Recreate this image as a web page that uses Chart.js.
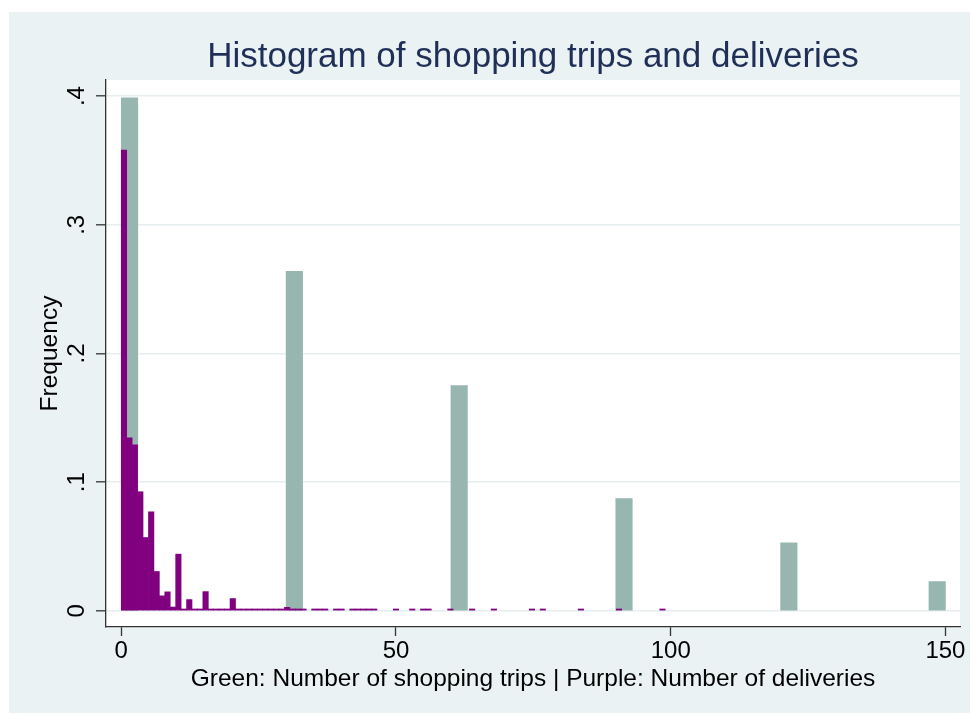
<!DOCTYPE html>
<html>
<head>
<meta charset="utf-8">
<title>Histogram of shopping trips and deliveries</title>
<style>
  html, body { margin: 0; padding: 0; background: #ffffff; }
  #wrap { width: 972px; height: 715px; }
</style>
<script src="https://cdn.jsdelivr.net/npm/chart.js@4.4.1/dist/chart.umd.min.js"></script>
</head>
<body>
<div id="wrap"><canvas id="hist" width="972" height="715"></canvas></div>
<script>
// Shopping trips: 50 bins of width 3 spanning 0-150; only these bins hold observations
const tripBinWidth = 3;
const tripBinCount = 50;
const tripBinStarts = [0, 30, 60, 90, 120, 147];
const tripFreq = [0.3987, 0.2638, 0.175, 0.0872, 0.0529, 0.0228];

// Deliveries: 100 bins of width 0.99 spanning 0-99 (bin n starts at n * 0.99)
const deliveryBinWidth = 0.99;
const deliveryFreq = [
  0.358, 0.1344, 0.129, 0.0926, 0.057, 0.077, 0.0306, 0.0117, 0.0148, 0.003,   // 0-9
  0.0441, 0.0015, 0.0088, 0.0015, 0.0015, 0.015, 0.0015, 0.0015, 0.0015, 0.0015, // 10-19
  0.0096, 0.0015, 0.0015, 0.0015, 0.0015, 0.0015, 0.0015, 0.0015, 0.0015, 0.0015, // 20-29
  0.0028, 0.0015, 0.0015, 0.0015, 0, 0.0015, 0.0015, 0.0015, 0, 0.0015,         // 30-39
  0.0015, 0, 0.0015, 0.0015, 0.0015, 0.0015, 0.0015, 0, 0, 0,                    // 40-49
  0.0015, 0, 0, 0.0015, 0, 0.0015, 0.0015, 0, 0, 0,                              // 50-59
  0.0015, 0, 0, 0, 0.0015, 0, 0, 0, 0.0015, 0,                                   // 60-69
  0, 0, 0, 0, 0, 0.0015, 0, 0.0015, 0, 0,                                        // 70-79
  0, 0, 0, 0, 0.0015, 0, 0, 0, 0, 0,                                             // 80-89
  0, 0.0015, 0, 0, 0, 0, 0, 0, 0, 0.0015                                         // 90-99
];

// Axis ticks
const xTickValues = [0, 50, 100, 150];
const xTickLabels = ['0', '50', '100', '150'];
const yTickValues = [0, 0.1, 0.2, 0.3, 0.4];
const yTickLabels = ['0', '.1', '.2', '.3', '.4'];

const titleText = 'Histogram of shopping trips and deliveries';
const xTitleText = 'Green: Number of shopping trips | Purple: Number of deliveries';
const yTitleText = 'Frequency';

// Axis ranges include a small margin around the data, as the plot region does
const X_MIN = -2.78, X_MAX = 152.65;
const Y_MIN = -0.0125, Y_MAX = 0.4125;

const FONT = "'Liberation Sans', Arial, Helvetica, sans-serif";
const REGION = '#eaf2f3';
const GRID = '#e6eef0';
const AXIS = '#333333';
const GREEN = '#97b6b0';
const PURPLE = '#800080';
const TITLE = '#1f2f57';

// Full bin tables for the bar controller (empty bins left as null)
const tripPoints = [];
for (let k = 0; k < tripBinCount; k++) {
  const idx = tripBinStarts.indexOf(k * tripBinWidth);
  tripPoints.push({ x: (k + 0.5) * tripBinWidth, y: idx >= 0 ? tripFreq[idx] : null });
}
const deliveryPoints = deliveryFreq.map((f, n) => ({
  x: (n + 0.5) * deliveryBinWidth,
  y: f > 0 ? f : null
}));

// Graph region (light bluish grey) and white plot region behind everything
const backdrop = {
  id: 'backdrop',
  beforeDraw(chart) {
    const { ctx, chartArea: a } = chart;
    ctx.save();
    ctx.fillStyle = '#ffffff';
    ctx.fillRect(0, 0, chart.width, chart.height);
    ctx.fillStyle = REGION;
    ctx.fillRect(9, 12, 961, 701);
    ctx.fillStyle = '#ffffff';
    ctx.fillRect(a.left, a.top, a.right - a.left, a.bottom - a.top);
    ctx.restore();
  }
};

const barCommon = {
  barPercentage: 1,
  categoryPercentage: 1,
  borderWidth: 0,
  grouped: false
};

new Chart(document.getElementById('hist'), {
  type: 'bar',
  data: {
    datasets: [
      Object.assign({
        label: 'Number of deliveries',
        data: deliveryPoints,
        xAxisID: 'x2',
        backgroundColor: PURPLE,
        order: 0
      }, barCommon),
      Object.assign({
        label: 'Number of shopping trips',
        data: tripPoints,
        xAxisID: 'x',
        backgroundColor: GREEN,
        order: 1
      }, barCommon)
    ]
  },
  options: {
    responsive: false,
    animation: false,
    devicePixelRatio: 1,
    layout: { padding: { left: 0, right: 12, top: 0, bottom: 0 } },
    plugins: {
      legend: { display: false },
      tooltip: { enabled: false },
      title: {
        display: true,
        text: titleText,
        fullSize: false,
        color: TITLE,
        font: { family: FONT, size: 35, weight: 'normal', lineHeight: 1.2 },
        padding: { top: 36, bottom: 2 }
      }
    },
    scales: {
      x: {
        type: 'linear',
        position: 'bottom',
        min: X_MIN,
        max: X_MAX,
        offset: false,
        afterBuildTicks: (s) => { s.ticks = xTickValues.map(v => ({ value: v })); },
        afterFit: (s) => { s.height = 88; },
        ticks: {
          autoSkip: false,
          maxRotation: 0,
          padding: 1,
          color: '#000000',
          font: { family: FONT, size: 24, lineHeight: 1.2 },
          callback: (v, i) => xTickLabels[i]
        },
        grid: {
          offset: false,
          drawOnChartArea: false,
          drawTicks: true,
          tickLength: 9,
          tickColor: AXIS,
          tickWidth: 1.3
        },
        border: { display: true, color: AXIS, width: 1.3 },
        title: {
          display: true,
          text: xTitleText,
          color: '#000000',
          font: { family: FONT, size: 24.5, lineHeight: 1.2 },
          padding: { top: 0, bottom: 21 }
        }
      },
      x2: {
        type: 'linear',
        position: 'bottom',
        min: X_MIN,
        max: X_MAX,
        offset: false,
        display: false,
        grid: { offset: false }
      },
      y: {
        type: 'linear',
        position: 'left',
        min: Y_MIN,
        max: Y_MAX,
        afterBuildTicks: (s) => { s.ticks = yTickValues.map(v => ({ value: v })); },
        afterFit: (s) => { s.width = 106; },
        ticks: {
          autoSkip: false,
          minRotation: 90,
          maxRotation: 90,
          crossAlign: 'center',
          padding: 9,
          color: '#000000',
          font: { family: FONT, size: 24, lineHeight: 1.2 },
          callback: (v, i) => yTickLabels[i]
        },
        grid: {
          color: GRID,
          lineWidth: 1.6,
          drawTicks: true,
          tickLength: 10,
          tickColor: AXIS,
          tickWidth: 1.3
        },
        border: { display: true, color: AXIS, width: 1.3 },
        title: {
          display: true,
          text: yTitleText,
          color: '#000000',
          font: { family: FONT, size: 24.5, lineHeight: 1.2 },
          padding: { top: 36, bottom: 0 }
        }
      }
    }
  },
  plugins: [backdrop]
});
</script>
</body>
</html>
